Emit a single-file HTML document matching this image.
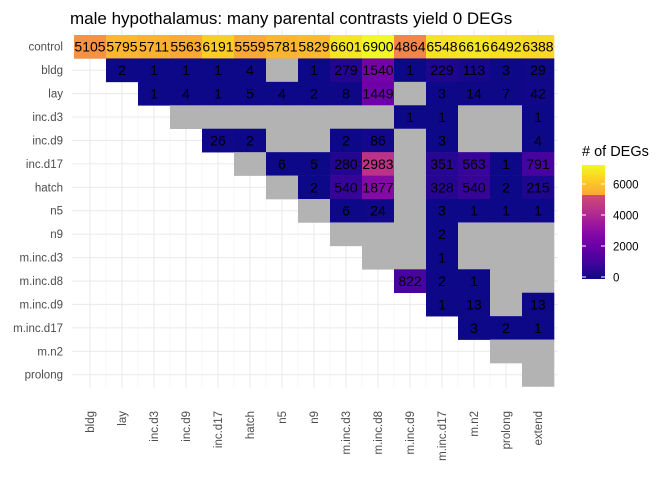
<!DOCTYPE html>
<html><head><meta charset="utf-8"><style>
body{margin:0;background:#fff;}
svg text{font-family:"Liberation Sans",Arial,sans-serif;}
</style></head><body>
<svg id="chart" width="672" height="480">
<defs>
<linearGradient id="plasmaGrad" x1="0" y1="1" x2="0" y2="0">
<stop offset="0" stop-color="#0d0887"/><stop offset="0.14" stop-color="#41049d"/><stop offset="0.29" stop-color="#6a00a8"/><stop offset="0.43" stop-color="#8f0da4"/><stop offset="0.57" stop-color="#b12a90"/><stop offset="0.71" stop-color="#cc4778"/><stop offset="0.86" stop-color="#e16462"/><stop offset="0.93" stop-color="#f2844b"/><stop offset="1" stop-color="#fca636"/>
</linearGradient>
<linearGradient id="topGrad" x1="0" y1="1" x2="0" y2="0">
<stop offset="0" stop-color="#fca636"/><stop offset="0.5" stop-color="#fcce25"/><stop offset="1" stop-color="#f0f921"/>
</linearGradient>
</defs>
<text x="70" y="24" font-size="17" fill="#000">male hypothalamus: many parental contrasts yield 0 DEGs</text>
<g id="grid"></g><g id="cells"></g><g id="labels"></g><g id="axes"></g><g id="legend"></g>
</svg>
<script>
const cols = ["bldg","lay","inc.d3","inc.d9","inc.d17","hatch","n5","n9","m.inc.d3","m.inc.d8","m.inc.d9","m.inc.d17","m.n2","prolong","extend"];
const rows = ["control","bldg","lay","inc.d3","inc.d9","inc.d17","hatch","n5","n9","m.inc.d3","m.inc.d8","m.inc.d9","m.inc.d17","m.n2","prolong"];
// null = no cell, 0 = grey (0 DEGs)
const rowControl = [5105,5795,5711,5563,6191,5559,5781,5829,6601,6900,4864,6548,6616,6492,6388];
const rowBldg = [null,2,1,1,1,4,0,1,279,1540,1,229,113,3,29];
const rowLay = [null,null,1,4,1,5,4,2,8,1449,0,3,14,7,42];
const rowIncD3 = [null,null,null,0,0,0,0,0,0,0,1,1,0,0,1];
const rowIncD9 = [null,null,null,null,26,2,0,0,2,86,0,3,0,0,4];
const rowIncD17 = [null,null,null,null,null,0,6,5,280,2983,0,351,563,1,791];
const rowHatch = [null,null,null,null,null,null,0,2,540,1877,0,328,540,2,215];
const rowN5 = [null,null,null,null,null,null,null,0,6,24,0,3,1,1,1];
const rowN9 = [null,null,null,null,null,null,null,null,0,0,0,2,0,0,0];
const rowMIncD3 = [null,null,null,null,null,null,null,null,null,0,0,1,0,0,0];
const rowMIncD8 = [null,null,null,null,null,null,null,null,null,null,822,2,1,0,0];
const rowMIncD9 = [null,null,null,null,null,null,null,null,null,null,null,1,13,0,13];
const rowMIncD17 = [null,null,null,null,null,null,null,null,null,null,null,null,3,2,1];
const rowMN2 = [null,null,null,null,null,null,null,null,null,null,null,null,null,0,0];
const rowProlong = [null,null,null,null,null,null,null,null,null,null,null,null,null,null,0];
const values = [rowControl,rowBldg,rowLay,rowIncD3,rowIncD9,rowIncD17,rowHatch,rowN5,rowN9,rowMIncD3,rowMIncD8,rowMIncD9,rowMIncD17,rowMN2,rowProlong];
const legendTicks = [0,2000,4000,6000];

const NS="http://www.w3.org/2000/svg";
const x0=74, cw=32, y0=35, rh=23.43;
const vmax=6900;
const xS=i=>x0+cw*i, yS=j=>y0+rh*j;
const lgTop=165, lgBot=279, lgY=v=>277-(v/6000)*(277-184);
const plasma=[[13,8,135],[65,4,157],[106,0,168],[143,13,164],[177,42,144],[204,71,120],[225,100,98],[242,132,75],[252,166,54],[252,206,37],[240,249,33]];
function color(v){let t=Math.max(0,Math.min(1,v/vmax))*(plasma.length-1);let i=Math.min(Math.floor(t),plasma.length-2),f=t-i;
const c=plasma[i].map((a,k)=>Math.round(a+(plasma[i+1][k]-a)*f));return `rgb(${c})`;}
function el(tag,attrs,parent){const e=document.createElementNS(NS,tag);for(const k in attrs)e.setAttribute(k,attrs[k]);parent.appendChild(e);return e;}
const grid=document.getElementById('grid'),cells=document.getElementById('cells'),labels=document.getElementById('labels'),axes=document.getElementById('axes'),legend=document.getElementById('legend');
cols.forEach((c,i)=>{const g=el('line',{x1:xS(i)+cw/2,x2:xS(i)+cw/2,y1:30,y2:388,stroke:'#ebebeb','stroke-width':1.1},grid);


if(i<cols.length-1){const m=el('line',{x1:xS(i+1),x2:xS(i+1),y1:30,y2:388,stroke:'#f4f4f4','stroke-width':0.6},grid);

}
const t=el('text',{x:0,y:0,'font-size':11.5,fill:'#4d4d4d','text-anchor':'end',transform:`translate(${xS(i)+cw/2+4},411) rotate(-90)`},axes);
t.textContent=c;

});
rows.forEach((r,j)=>{const g=el('line',{x1:72,x2:558,y1:yS(j)+rh/2,y2:yS(j)+rh/2,stroke:'#ebebeb','stroke-width':1.1},grid);


const t=el('text',{x:63,y:yS(j)+rh/2+4,'font-size':11.5,fill:'#4d4d4d','text-anchor':'end'},axes);
t.textContent=r;

});
values.forEach((row,j)=>row.forEach((v,i)=>{if(v===null)return;
const rc=el('rect',{x:xS(i),y:yS(j),width:cw+0.3,height:rh+0.3,fill:v===0?'#b3b3b3':color(v)},cells);


if(v!==0){const t=el('text',{x:xS(i)+cw/2,y:yS(j)+rh/2+5,'font-size':14,fill:'#000','text-anchor':'middle'},labels);
t.textContent=v;

}}));
const lt=el('text',{x:582,y:156,'font-size':14.5,fill:'#000'},legend);
lt.textContent='# of DEGs';


const lb=el('rect',{x:582,y:lgTop,width:23,height:lgBot-lgTop,fill:'url(#plasmaGrad)'},legend);


const lb2=el('rect',{x:582,y:lgTop,width:23,height:30,fill:'url(#topGrad)'},legend);


legendTicks.forEach(v=>{const y=lgY(v);
const a=el('line',{x1:582,x2:586,y1:y,y2:y,stroke:'#fff','stroke-width':1},legend);


const b=el('line',{x1:601,x2:605,y1:y,y2:y,stroke:'#fff','stroke-width':1},legend);


const t=el('text',{x:613,y:y+4.5,'font-size':11.5,fill:'#000'},legend);
t.textContent=v;

});
</script>
</body></html>
